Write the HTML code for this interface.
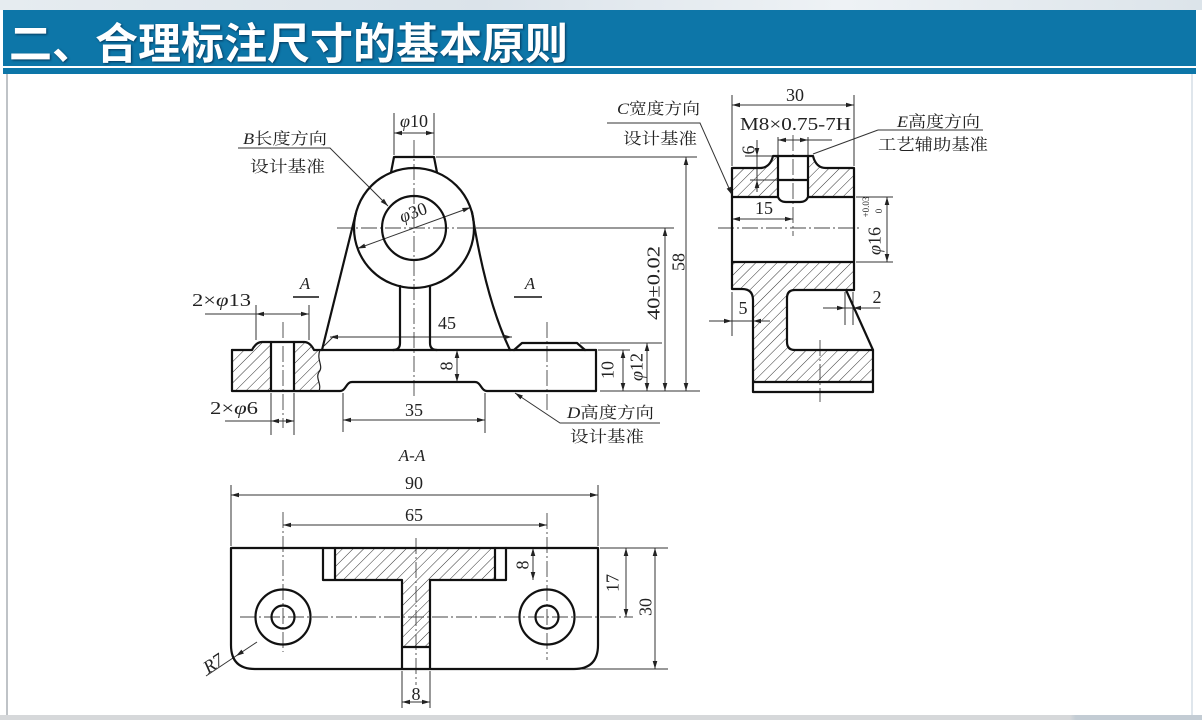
<!DOCTYPE html>
<html><head><meta charset="utf-8"><style>
html,body{margin:0;padding:0;background:#fff;}
body{width:1202px;height:720px;overflow:hidden;position:relative;}
.top{position:absolute;left:0;top:0;width:1202px;height:10px;background:linear-gradient(90deg,#e6ecf0,#dbe3ea 40%,#eef2f5 70%,#dce4ea);}
.bar{position:absolute;left:3px;top:10px;width:1193px;height:56px;background:#0d76a8;}
.stripe{position:absolute;left:3px;top:68px;width:1193px;height:6px;background:#0d76a8;}
.title{position:absolute;left:9px;top:18px;font:bold 43px/46px "Noto Sans CJK SC","WenQuanYi Zen Hei",sans-serif;color:#fff;white-space:nowrap;text-shadow:1px 1px 2px rgba(0,30,60,.7);}
.lb{position:absolute;left:6px;top:74px;width:2px;height:641px;background:#bfc3c7;}
.rb{position:absolute;left:1191px;top:74px;width:2px;height:641px;background:#dfe6ec;}
.bb{position:absolute;left:0;top:715px;width:1202px;height:5px;background:linear-gradient(90deg,#d6d8da,#d6d8da 89%,#c3ccd4 89.5%);}
svg text{font-family:"Liberation Serif","Noto Serif CJK SC",serif;fill:#222;}
.n{font-size:18px;}
.c{font-size:16px;}
</style></head><body>
<div class="top"></div>
<div class="bar"></div>
<div class="stripe"></div>
<div class="title">二、合理标注尺寸的基本原则</div>
<div class="lb"></div>
<div class="rb"></div>
<div class="bb"></div>

<svg width="1202" height="720" style="position:absolute;left:0;top:0" xmlns="http://www.w3.org/2000/svg">
<defs>
<pattern id="h" width="7.5" height="7.5" patternUnits="userSpaceOnUse" patternTransform="rotate(45)"><line x1="0" y1="0" x2="0" y2="7.5" stroke="#333" stroke-width="1"/></pattern>
</defs>

<!-- hatch fills -->
<g fill="url(#h)" stroke="none">
<path d="M232,350 H252 Q256,342 262,342 H271 V391 H232 Z"/>
<path d="M294,342 H304 Q310,342 314,350 H320 C316,360 324,366 319,372 C315,378 322,384 319,391 H294 Z"/>
<path d="M732,168 H760 Q770,168 773,156 H778 V197 H732 Z"/>
<path d="M808,156 H813 Q816,168 826,168 H854 V197 H808 Z"/>
<path d="M732,262 H854 V290 H732 Z"/>
<path d="M742,290 Q753,290 753,300 V382 H873 V350 H795 Q787,350 787,342 V290 Z"/>
<path d="M335,548 H495 V580 H430 V647 H402 V580 H335 Z"/>
</g>

<!-- centerlines -->
<g stroke="#444" stroke-width="0.9" stroke-dasharray="16 3 2 3" fill="none">
<line x1="414" y1="140" x2="414" y2="398"/>
<line x1="337" y1="228" x2="492" y2="228"/>
<line x1="283" y1="322" x2="283" y2="428"/>
<line x1="547" y1="322" x2="547" y2="412"/>
<line x1="793" y1="135" x2="793" y2="236"/>
<line x1="718" y1="228" x2="862" y2="228"/>
<line x1="820" y1="340" x2="820" y2="402"/>
<line x1="283" y1="512" x2="283" y2="652"/>
<line x1="547" y1="513" x2="547" y2="660"/>
<line x1="240" y1="617" x2="633" y2="617"/>
<line x1="416" y1="538" x2="416" y2="685"/>
</g>

<!-- thin lines -->
<g stroke="#333" stroke-width="1" fill="none">
<!-- front -->
<path d="M394,155 V113 M434,155 V113 M394,133 H434"/>
<path d="M436,157 H697 M686,157 V391"/>
<path d="M476,228 H674 M665,228 V391"/>
<path d="M600,391 H700 M580,343 H662 M598,350 H630 M623,350 V391 M647,343 V391"/>
<path d="M330,337 H512 M324,346 L334,336"/>
<path d="M457,350 V382"/>
<path d="M343,393 V432 M485,393 V433 M343,420 H485"/>
<path d="M256,340 V305 M309,340 V305 M205,314 H309"/>
<path d="M271,393 V435 M294,393 V435 M225,421 H294"/>
<path d="M357.6,248.5 L470.4,207.5"/>
<path d="M238,148 H330 L388,206"/>
<path d="M515,393 L560,423 H660"/>
<path d="M607,123 H700 L732,195"/>
<!-- side -->
<path d="M732,95 V166 M854,95 V166 M732,105 H854"/>
<path d="M778,137 V156 M808,137 V156 M778,140 H832"/>
<path d="M757,140 V192 M745,156 H773 M750,180 H778"/>
<path d="M878,130 H983 M878,130 L813,154"/>
<path d="M732,219 H793"/>
<path d="M856,197 H893 M856,262 H893 M887,197 V262"/>
<path d="M732,292 V336 M709,321 H770"/>
<path d="M845,292 V325 M853,292 V325 M823,308 H880"/>
<!-- bottom -->
<path d="M231,485 V546 M598,485 V546 M231,495 H598"/>
<path d="M283,525 H547"/>
<path d="M533,548 V580"/>
<path d="M600,548 H668 M578,669 H668 M626,548 V617 M655,548 V669"/>
<path d="M402,671 V708 M430,671 V708 M402,702 H430"/>
<path d="M206,676 L257,642"/>
</g>

<!-- thick outlines -->
<g stroke="#111" stroke-width="2.2" fill="none" stroke-linejoin="round" stroke-linecap="round">
<circle cx="414" cy="228" r="60"/>
<circle cx="414" cy="228" r="32"/>
<path d="M391,172.5 L394,157 H434 L437,172.5"/>
<path d="M355.8,213.6 L322,350"/>
<path d="M472,212 Q486,300 510,350"/>
<path d="M400,286 V343 Q400,350 393,350 M430,286 V343 Q430,350 437,350"/>
<path d="M232,350 H252 Q256,342 262,342 H304 Q310,342 314,350 H596"/>
<path d="M514,350 L522,343 H577 L585,350"/>
<path d="M596,350 V391 H487 C481,391 481,382 475,382 H352 C346,382 346,391 340,391 H232 V350"/>
<path d="M271,342 V391 M294,342 V391"/>
<!-- side -->
<path d="M732,197 V168 H760 Q770,168 773,156 H813 Q816,168 826,168 H854 V290"/>
<path d="M778,156 V197 Q780,202 786,202 H800 Q806,202 808,197 V156 M778,180 H808"/>
<path d="M732,197 H778 M808,197 H854 M732,262 H854"/>
<path d="M732,197 V289 H742 Q753,289 753,300 V392 H873 V350 L846,290 M753,382 H873"/>
<path d="M854,290 H795 Q787,290 787,298 V342 Q787,350 795,350 H873"/>
<!-- bottom -->
<path d="M231,548 H598 V645 Q598,669 574,669 H255 Q231,669 231,645 Z"/>
<path d="M323,548 V580 H402 V669 M430,669 V580 H506 V548 M335,548 V580 M495,548 V580 M402,647 H430"/>
<circle cx="283" cy="617" r="27.5"/>
<circle cx="283" cy="617" r="11.5"/>
<circle cx="547" cy="617" r="27.5"/>
<circle cx="547" cy="617" r="11.5"/>
</g>
<path d="M320,350 C316,360 324,366 319,372 C315,378 322,384 319,391" stroke="#222" stroke-width="1.2" fill="none"/>

<!-- section marks -->
<g stroke="#111" stroke-width="1.6">
<line x1="293" y1="297" x2="319" y2="297"/>
<line x1="514" y1="297" x2="542" y2="297"/>
</g>

<!-- arrows -->
<g fill="#222" stroke="none">
<polygon points="394,133 402,130.7 402,135.3"/>
<polygon points="434,133 426,130.7 426,135.3"/>
<polygon points="686,157 683.7,165 688.3,165"/>
<polygon points="686,391 683.7,383 688.3,383"/>
<polygon points="665,228 662.7,236 667.3,236"/>
<polygon points="665,391 662.7,383 667.3,383"/>
<polygon points="623,350 620.7,358 625.3,358"/>
<polygon points="623,391 620.7,383 625.3,383"/>
<polygon points="647,343 644.7,351 649.3,351"/>
<polygon points="647,391 644.7,383 649.3,383"/>
<polygon points="330,337 338,334.7 338,339.3"/>
<polygon points="512,337 504,334.7 504,339.3"/>
<polygon points="457,350 454.7,358 459.3,358"/>
<polygon points="457,382 454.7,374 459.3,374"/>
<polygon points="343,420 351,417.7 351,422.3"/>
<polygon points="485,420 477,417.7 477,422.3"/>
<polygon points="256,314 264,311.7 264,316.3"/>
<polygon points="309,314 301,311.7 301,316.3"/>
<polygon points="271,421 279,418.7 279,423.3"/>
<polygon points="294,421 286,418.7 286,423.3"/>
<polygon points="388,206 380.7,202 384,198.7"/>
<polygon points="515,393 522.9,395.5 520.4,399.4"/>
<polygon points="732,195 730.85,186.76 726.65,188.62"/>
<polygon points="357.6,248.5 365.9,247.9 364.3,243.6"/>
<polygon points="470.4,207.5 463.7,212.4 462.1,208.0"/>
<!-- side -->
<polygon points="732,105 740,102.7 740,107.3"/>
<polygon points="854,105 846,102.7 846,107.3"/>
<polygon points="778,140 786,137.7 786,142.3"/>
<polygon points="808,140 800,137.7 800,142.3"/>
<polygon points="757,156 754.7,148 759.3,148"/>
<polygon points="757,180 754.7,188 759.3,188"/>
<polygon points="732,219 740,216.7 740,221.3"/>
<polygon points="793,219 785,216.7 785,221.3"/>
<polygon points="887,197 884.7,205 889.3,205"/>
<polygon points="887,262 884.7,254 889.3,254"/>
<polygon points="732,321 724,318.7 724,323.3"/>
<polygon points="753,321 761,318.7 761,323.3"/>
<polygon points="845,308 837,305.7 837,310.3"/>
<polygon points="853,308 861,305.7 861,310.3"/>
<!-- bottom -->
<polygon points="231,495 239,492.7 239,497.3"/>
<polygon points="598,495 590,492.7 590,497.3"/>
<polygon points="283,525 291,522.7 291,527.3"/>
<polygon points="547,525 539,522.7 539,527.3"/>
<polygon points="533,548 530.7,556 535.3,556"/>
<polygon points="533,580 530.7,572 535.3,572"/>
<polygon points="626,548 623.7,556 628.3,556"/>
<polygon points="626,617 623.7,609 628.3,609"/>
<polygon points="655,548 652.7,556 657.3,556"/>
<polygon points="655,669 652.7,661 657.3,661"/>
<polygon points="402,702 410,699.7 410,704.3"/>
<polygon points="430,702 422,699.7 422,704.3"/>
<polygon points="236,656 243.95,653.51 241.41,649.67"/>
</g>

<!-- texts front -->
<text class="n" x="414" y="127" text-anchor="middle"><tspan font-style="italic">φ</tspan>10</text>
<text class="n" transform="translate(678,262) rotate(-90)" text-anchor="middle" dy=".35em">58</text>
<text class="n" transform="translate(653,283) rotate(-90)" text-anchor="middle" dy=".35em" textLength="74" lengthAdjust="spacingAndGlyphs">40±0.02</text>
<text class="n" transform="translate(607,370) rotate(-90)" text-anchor="middle" dy=".35em">10</text>
<text class="n" transform="translate(636,367) rotate(-90)" text-anchor="middle" dy=".35em"><tspan font-style="italic">φ</tspan>12</text>
<text class="n" x="447" y="329" text-anchor="middle">45</text>
<text class="n" transform="translate(446,366) rotate(-90)" text-anchor="middle" dy=".35em">8</text>
<text class="n" x="414" y="416" text-anchor="middle">35</text>
<text class="n" x="192" y="306" textLength="59" lengthAdjust="spacingAndGlyphs">2×<tspan font-style="italic">φ</tspan>13</text>
<text class="n" x="210" y="414" textLength="48" lengthAdjust="spacingAndGlyphs">2×<tspan font-style="italic">φ</tspan>6</text>
<text class="n" transform="translate(413,212) rotate(-20)" text-anchor="middle" dy=".35em"><tspan font-style="italic">φ</tspan>30</text>
<text x="305" y="289" font-size="17" font-style="italic" text-anchor="middle">A</text>
<text x="530" y="289" font-size="17" font-style="italic" text-anchor="middle">A</text>
<text x="412" y="461" font-size="17" font-style="italic" text-anchor="middle">A-A</text>
<text class="c" x="243" y="144" textLength="84" lengthAdjust="spacingAndGlyphs"><tspan font-style="italic">B</tspan>长度方向</text>
<text class="c" x="250" y="172" textLength="75" lengthAdjust="spacingAndGlyphs">设计基准</text>
<text class="c" x="567" y="418" textLength="87" lengthAdjust="spacingAndGlyphs"><tspan font-style="italic">D</tspan>高度方向</text>
<text class="c" x="570" y="442" textLength="74" lengthAdjust="spacingAndGlyphs">设计基准</text>
<text class="c" x="617" y="114" textLength="83" lengthAdjust="spacingAndGlyphs"><tspan font-style="italic">C</tspan>宽度方向</text>
<text class="c" x="623" y="144" textLength="74" lengthAdjust="spacingAndGlyphs">设计基准</text>
<!-- side texts -->
<text class="n" x="795" y="101" text-anchor="middle">30</text>
<text class="n" x="740" y="130" textLength="111" lengthAdjust="spacingAndGlyphs">M8×0.75-7H</text>
<text class="n" transform="translate(748,150) rotate(-90)" text-anchor="middle" dy=".35em">6</text>
<text class="c" x="897" y="127" textLength="83" lengthAdjust="spacingAndGlyphs"><tspan font-style="italic">E</tspan>高度方向</text>
<text class="c" x="878" y="150" textLength="110" lengthAdjust="spacingAndGlyphs">工艺辅助基准</text>
<text class="n" x="764" y="214" text-anchor="middle">15</text>
<text class="n" transform="translate(874,241) rotate(-90)" text-anchor="middle" dy=".35em"><tspan font-style="italic">φ</tspan>16</text>
<text transform="translate(866,207) rotate(-90)" text-anchor="middle" dy=".35em" font-size="9">+0.03</text>
<text transform="translate(879,211) rotate(-90)" text-anchor="middle" dy=".35em" font-size="9">0</text>
<text class="n" x="743" y="314" text-anchor="middle">5</text>
<text class="n" x="877" y="303" text-anchor="middle">2</text>
<!-- bottom texts -->
<text class="n" x="414" y="489" text-anchor="middle">90</text>
<text class="n" x="414" y="521" text-anchor="middle">65</text>
<text class="n" transform="translate(522,565) rotate(-90)" text-anchor="middle" dy=".35em">8</text>
<text class="n" transform="translate(612,583) rotate(-90)" text-anchor="middle" dy=".35em">17</text>
<text class="n" transform="translate(645,607) rotate(-90)" text-anchor="middle" dy=".35em">30</text>
<text class="n" x="416" y="700" text-anchor="middle">8</text>
<text class="n" transform="translate(213,663) rotate(-34)" text-anchor="middle" dy=".35em" font-style="italic">R7</text>
</svg>
</body></html>
